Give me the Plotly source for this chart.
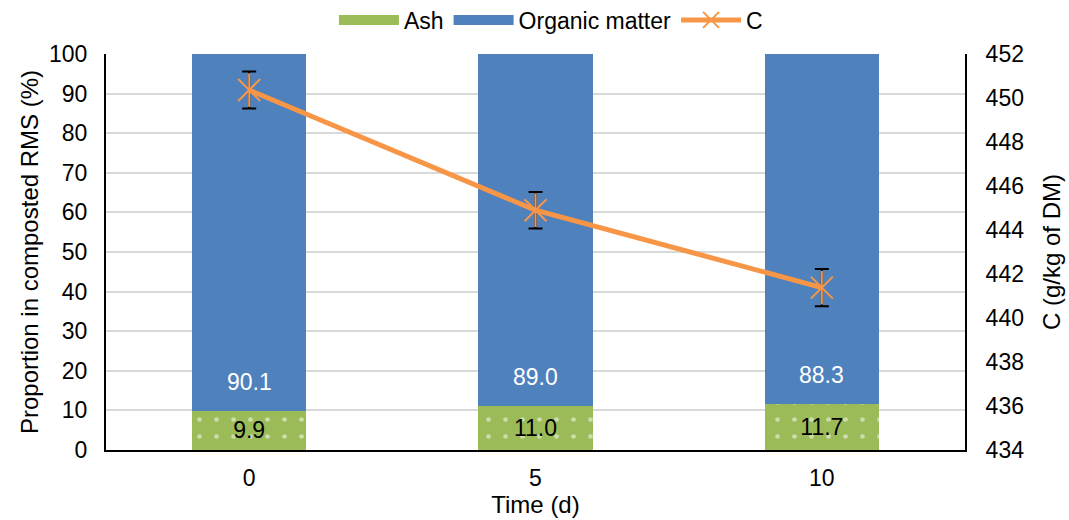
import plotly.graph_objects as go

time_labels = ["0", "5", "10"]
ash = [9.9, 11.0, 11.7]
organic = [90.1, 89.0, 88.3]
carbon = [450.36, 444.9, 441.38]
carbon_err = [0.84, 0.83, 0.85]

GREEN = "#9BBB59"
BLUE = "#4F81BD"
ORANGE = "#F79646"
FONT = "Liberation Sans, Arial, sans-serif"
TICK = 23
TITLE = 24
BARTXT = 23

fig = go.Figure()
fig.add_trace(go.Bar(
    x=time_labels, y=ash, name="Ash", showlegend=False, legendgroup="ash",
    marker=dict(color=GREEN, line=dict(width=0),
                pattern=dict(shape=".", fgcolor="white", bgcolor=GREEN, size=17, solidity=0.06)),
    texttemplate="%{y:.1f}", textposition="inside", insidetextanchor="middle",
    textangle=0,
    textfont=dict(color="black", size=BARTXT, family=FONT),
))
fig.add_trace(go.Bar(
    x=time_labels, y=organic, name="Organic matter", showlegend=False, legendgroup="om",
    marker=dict(color=BLUE, line=dict(width=0)),
    textposition="none",
))
# legend proxies (wide swatches like the reference)
fig.add_trace(go.Scatter(x=[None], y=[None], mode="lines", name="Ash", legendgroup="ash",
                         line=dict(color=GREEN, width=10)))
fig.add_trace(go.Scatter(x=[None], y=[None], mode="lines", name="Organic matter", legendgroup="om",
                         line=dict(color=BLUE, width=10)))
fig.add_trace(go.Scatter(
    x=time_labels, y=carbon, name="C", yaxis="y2", mode="lines+markers", legendgroup="c",
    line=dict(color=ORANGE, width=5),
    marker=dict(symbol="x-thin-open", size=22, color=ORANGE, line=dict(color=ORANGE, width=2)),
    error_y=dict(type="data", array=carbon_err, visible=True, color="black", thickness=2, width=7),
))
fig.add_trace(go.Scatter(
    x=time_labels, y=carbon, name="C", yaxis="y2", mode="markers", legendgroup="c", showlegend=False,
    marker=dict(symbol="line-ns-open", size=24, color=ORANGE, line=dict(color=ORANGE, width=2)),
))

# organic-matter labels just above the ash segment (x given as category index)
for i, (a, om) in enumerate(zip(ash, organic)):
    fig.add_annotation(x=i, y=a, xref="x", yref="y", text=f"{om:.1f}", showarrow=False,
                       yshift=29, font=dict(color="white", size=BARTXT, family=FONT))

fig.update_layout(
    width=1069, height=520,
    barmode="stack", bargap=0.6,
    plot_bgcolor="white", paper_bgcolor="white",
    margin=dict(l=106, r=104, t=54, b=70, autoexpand=False),
    font=dict(family=FONT, size=TICK, color="black"),
    legend=dict(orientation="h", x=0.518, xanchor="center", y=1.086, yanchor="middle",
                font=dict(size=TICK), traceorder="normal", bgcolor="rgba(0,0,0,0)",
                itemwidth=60),
    xaxis=dict(
        type="category", range=[-0.5, len(time_labels) - 0.5],
        showline=True, linecolor="black", linewidth=2,
        ticks="", tickfont=dict(size=TICK), ticklabelstandoff=6,
        title=dict(text="Time (d)", font=dict(size=TITLE), standoff=6),
    ),
    yaxis=dict(
        range=[0, 100], dtick=10, showline=True, linecolor="black", linewidth=2,
        showgrid=True, gridcolor="#D9D9D9", gridwidth=1.5, zeroline=False,
        tickfont=dict(size=TICK), ticks="", ticklabelstandoff=12,
        title=dict(text="Proportion in composted RMS (%)", font=dict(size=TITLE), standoff=4),
    ),
    yaxis2=dict(
        range=[434, 452], dtick=2, overlaying="y", side="right",
        showline=True, linecolor="black", linewidth=2, showgrid=False, zeroline=False,
        tickfont=dict(size=TICK), ticks="", ticklabelstandoff=14,
        title=dict(text="C (g/kg of DM)", font=dict(size=TITLE), standoff=20),
    ),
)

fig.write_html("out.html")
